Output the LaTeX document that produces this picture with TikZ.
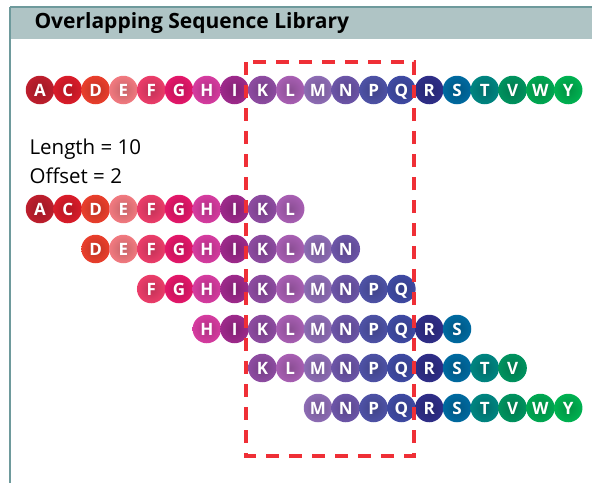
\documentclass[tikz,border=0pt]{standalone}
\usepackage{fontspec}
\setmainfont{Open Sans}
\definecolor{hdrfill}{HTML}{AFC4C5}
\definecolor{hdrline}{HTML}{6E9A9C}
\definecolor{boxred}{HTML}{EF2F36}
\definecolor{cA}{HTML}{BE1E2D}
\definecolor{cC}{HTML}{DA1C2A}
\definecolor{cD}{HTML}{EA3F2C}
\definecolor{cE}{HTML}{F27A80}
\definecolor{cF}{HTML}{EC3D6A}
\definecolor{cG}{HTML}{E4176A}
\definecolor{cH}{HTML}{D63CA0}
\definecolor{cI}{HTML}{9E2A8C}
\definecolor{cK}{HTML}{8E4CA2}
\definecolor{cL}{HTML}{A85FB3}
\definecolor{cM}{HTML}{8D6CB4}
\definecolor{cN}{HTML}{6C55A8}
\definecolor{cP}{HTML}{4E52A6}
\definecolor{cQ}{HTML}{3F4AA3}
\definecolor{cR}{HTML}{2F2E88}
\definecolor{cS}{HTML}{006AA0}
\definecolor{cT}{HTML}{008581}
\definecolor{cV}{HTML}{00935F}
\definecolor{cW}{HTML}{00A852}
\definecolor{cY}{HTML}{00B251}
\tikzset{
  res/.style={circle,minimum size=28.5pt,inner sep=0pt,text=white,
    font=\fontsize{17}{17}\selectfont\bfseries,text height=12pt,text depth=0pt,
    shading=radial,inner color=#1!82!black,outer color=#1},
  resA/.style={res=cA}, resC/.style={res=cC}, resD/.style={res=cD},
  resE/.style={res=cE}, resF/.style={res=cF}, resG/.style={res=cG},
  resH/.style={res=cH}, resI/.style={res=cI}, resK/.style={res=cK},
  resL/.style={res=cL}, resM/.style={res=cM}, resN/.style={res=cN},
  resP/.style={res=cP}, resQ/.style={res=cQ}, resR/.style={res=cR},
  resS/.style={res=cS}, resT/.style={res=cT}, resV/.style={res=cV},
  resW/.style={res=cW}, resY/.style={res=cY},
  window/.style={draw=boxred,line width=3.8pt,dash pattern=on 13pt off 10pt}
}
\begin{document}
\begin{tikzpicture}[x=1pt,y=-1pt]
      \useasboundingbox (0,0) rectangle (592,483);
      % header and frame
      \fill[hdrfill] (10,7) rectangle (592,39);
      \draw[hdrline,line width=1.5pt] (10,7) -- (592,7);
      \draw[hdrline,line width=1.5pt] (10,7) -- (10,483);
      \node[anchor=west,font=\fontsize{21}{21}\selectfont\bfseries] (title) at (31,23.5) {Overlapping Sequence Library};
      % full protein
      \draw
        (40.0,90) node[resA] (r0A){A}
        (67.8,90) node[resC] (r0C){C}
        (95.6,90) node[resD] (r0D){D}
        (123.4,90) node[resE] (r0E){E}
        (151.2,90) node[resF] (r0F){F}
        (179.0,90) node[resG] (r0G){G}
        (206.8,90) node[resH] (r0H){H}
        (234.6,90) node[resI] (r0I){I}
        (262.4,90) node[resK] (r0K){K}
        (290.2,90) node[resL] (r0L){L}
        (318.0,90) node[resM] (r0M){M}
        (345.8,90) node[resN] (r0N){N}
        (373.6,90) node[resP] (r0P){P}
        (401.4,90) node[resQ] (r0Q){Q}
        (429.2,90) node[resR] (r0R){R}
        (457.0,90) node[resS] (r0S){S}
        (484.8,90) node[resT] (r0T){T}
        (512.6,90) node[resV] (r0V){V}
        (540.4,90) node[resW] (r0W){W}
        (568.2,90) node[resY] (r0Y){Y};
      \node[anchor=west,font=\fontsize{20.5}{20.5}\selectfont] (len) at (26,149) {Length = 10};
      \node[anchor=west,font=\fontsize{20.5}{20.5}\selectfont] (off) at (26,175.5) {Offset = 2};
      % peptides
      \draw
        (40.0,209) node[resA] (r1A){A}
        (67.8,209) node[resC] (r1C){C}
        (95.6,209) node[resD] (r1D){D}
        (123.4,209) node[resE] (r1E){E}
        (151.2,209) node[resF] (r1F){F}
        (179.0,209) node[resG] (r1G){G}
        (206.8,209) node[resH] (r1H){H}
        (234.6,209) node[resI] (r1I){I}
        (262.4,209) node[resK] (r1K){K}
        (290.2,209) node[resL] (r1L){L};
      \draw
        (95.6,249) node[resD] (r2D){D}
        (123.4,249) node[resE] (r2E){E}
        (151.2,249) node[resF] (r2F){F}
        (179.0,249) node[resG] (r2G){G}
        (206.8,249) node[resH] (r2H){H}
        (234.6,249) node[resI] (r2I){I}
        (262.4,249) node[resK] (r2K){K}
        (290.2,249) node[resL] (r2L){L}
        (318.0,249) node[resM] (r2M){M}
        (345.8,249) node[resN] (r2N){N};
      \draw
        (151.2,289) node[resF] (r3F){F}
        (179.0,289) node[resG] (r3G){G}
        (206.8,289) node[resH] (r3H){H}
        (234.6,289) node[resI] (r3I){I}
        (262.4,289) node[resK] (r3K){K}
        (290.2,289) node[resL] (r3L){L}
        (318.0,289) node[resM] (r3M){M}
        (345.8,289) node[resN] (r3N){N}
        (373.6,289) node[resP] (r3P){P}
        (401.4,289) node[resQ] (r3Q){Q};
      \draw
        (206.8,329) node[resH] (r4H){H}
        (234.6,329) node[resI] (r4I){I}
        (262.4,329) node[resK] (r4K){K}
        (290.2,329) node[resL] (r4L){L}
        (318.0,329) node[resM] (r4M){M}
        (345.8,329) node[resN] (r4N){N}
        (373.6,329) node[resP] (r4P){P}
        (401.4,329) node[resQ] (r4Q){Q}
        (429.2,329) node[resR] (r4R){R}
        (457.0,329) node[resS] (r4S){S};
      \draw
        (262.4,368) node[resK] (r5K){K}
        (290.2,368) node[resL] (r5L){L}
        (318.0,368) node[resM] (r5M){M}
        (345.8,368) node[resN] (r5N){N}
        (373.6,368) node[resP] (r5P){P}
        (401.4,368) node[resQ] (r5Q){Q}
        (429.2,368) node[resR] (r5R){R}
        (457.0,368) node[resS] (r5S){S}
        (484.8,368) node[resT] (r5T){T}
        (512.6,368) node[resV] (r5V){V};
      \draw
        (318.0,408) node[resM] (r6M){M}
        (345.8,408) node[resN] (r6N){N}
        (373.6,408) node[resP] (r6P){P}
        (401.4,408) node[resQ] (r6Q){Q}
        (429.2,408) node[resR] (r6R){R}
        (457.0,408) node[resS] (r6S){S}
        (484.8,408) node[resT] (r6T){T}
        (512.6,408) node[resV] (r6V){V}
        (540.4,408) node[resW] (r6W){W}
        (568.2,408) node[resY] (r6Y){Y};
      % overlap window
      \draw[window] (246,62) rectangle (414,456);
    \end{tikzpicture}
\end{document}
